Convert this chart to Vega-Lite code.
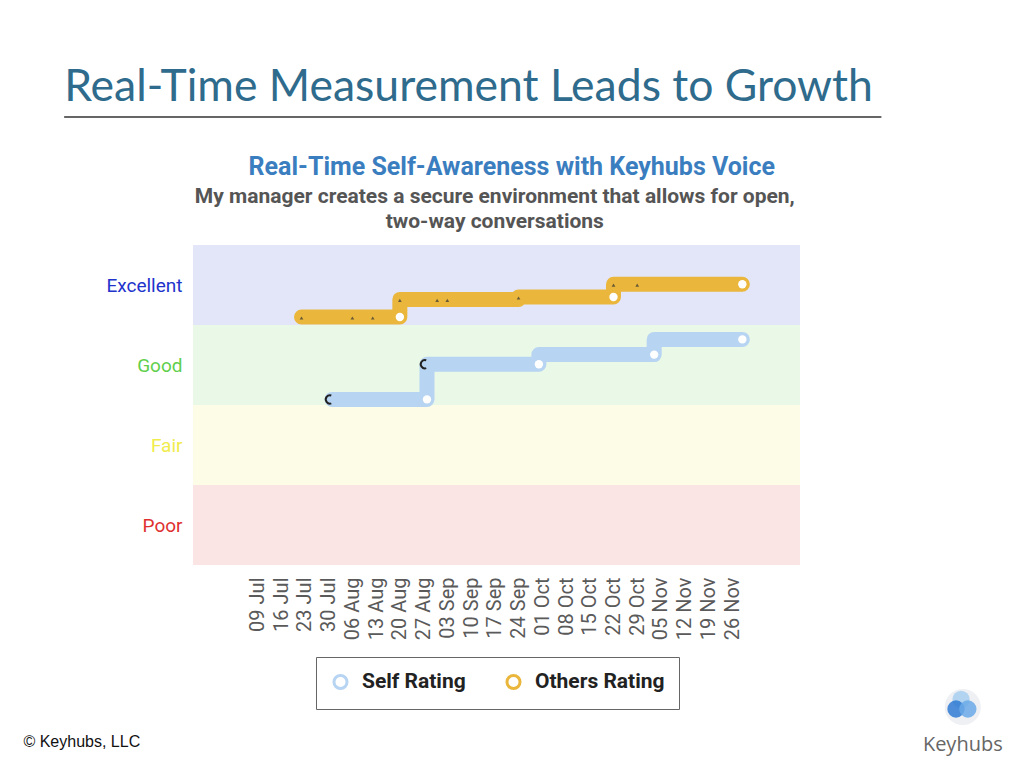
{
  "$schema": "https://vega.github.io/schema/vega-lite/v6.json",
  "width": 607,
  "height": 320,
  "autosize": {"type": "none"},
  "padding": {"left": 193, "top": 245, "right": 224, "bottom": 203},
  "background": "white",
  "config": {
    "font": "Roboto",
    "view": {"stroke": null},
    "axis": {"labelOverlap": false}
  },
  "resolve": {"scale": {"fill": "independent"}},
  "datasets": {
    "bands": [
      {"band": "Excellent", "lo": 3, "hi": 4},
      {"band": "Good", "lo": 2, "hi": 3},
      {"band": "Fair", "lo": 1, "hi": 2},
      {"band": "Poor", "lo": 0, "hi": 1}
    ],
    "ratings": [
      {"series": "Others Rating", "seq": 1, "date": "2018-07-22T00:00:00", "rating": 3.10, "dot": false},
      {"series": "Others Rating", "seq": 2, "date": "2018-08-20T00:00:00", "rating": 3.10, "dot": true},
      {"series": "Others Rating", "seq": 3, "date": "2018-08-20T00:00:00", "rating": 3.32, "dot": false},
      {"series": "Others Rating", "seq": 4, "date": "2018-09-24T00:00:00", "rating": 3.32, "dot": false},
      {"series": "Others Rating", "seq": 5, "date": "2018-09-24T00:00:00", "rating": 3.35, "dot": false},
      {"series": "Others Rating", "seq": 6, "date": "2018-10-22T00:00:00", "rating": 3.35, "dot": true},
      {"series": "Others Rating", "seq": 7, "date": "2018-10-22T00:00:00", "rating": 3.51, "dot": false},
      {"series": "Others Rating", "seq": 8, "date": "2018-11-29T00:00:00", "rating": 3.51, "dot": true},
      {"series": "Self Rating", "seq": 1, "date": "2018-07-31T00:00:00", "rating": 2.07, "dot": false},
      {"series": "Self Rating", "seq": 2, "date": "2018-08-28T00:00:00", "rating": 2.07, "dot": true},
      {"series": "Self Rating", "seq": 3, "date": "2018-08-28T00:00:00", "rating": 2.51, "dot": false},
      {"series": "Self Rating", "seq": 4, "date": "2018-09-30T00:00:00", "rating": 2.51, "dot": true},
      {"series": "Self Rating", "seq": 5, "date": "2018-09-30T00:00:00", "rating": 2.63, "dot": false},
      {"series": "Self Rating", "seq": 6, "date": "2018-11-03T00:00:00", "rating": 2.63, "dot": true},
      {"series": "Self Rating", "seq": 7, "date": "2018-11-03T00:00:00", "rating": 2.82, "dot": false},
      {"series": "Self Rating", "seq": 8, "date": "2018-11-29T00:00:00", "rating": 2.82, "dot": true}
    ],
    "starts": [
      {"series": "Others Rating", "date": "2018-07-22T00:00:00", "rating": 3.10},
      {"series": "Others Rating", "date": "2018-08-06T00:00:00", "rating": 3.10},
      {"series": "Others Rating", "date": "2018-08-12T00:00:00", "rating": 3.10},
      {"series": "Others Rating", "date": "2018-08-20T00:00:00", "rating": 3.32},
      {"series": "Others Rating", "date": "2018-08-31T00:00:00", "rating": 3.32},
      {"series": "Others Rating", "date": "2018-09-03T00:00:00", "rating": 3.32},
      {"series": "Others Rating", "date": "2018-09-24T00:00:00", "rating": 3.35},
      {"series": "Others Rating", "date": "2018-10-22T00:00:00", "rating": 3.51},
      {"series": "Others Rating", "date": "2018-10-29T00:00:00", "rating": 3.51}
    ],
    "selfStarts": [
      {"series": "Self Rating", "date": "2018-07-31T00:00:00", "rating": 2.07},
      {"series": "Self Rating", "date": "2018-08-28T00:00:00", "rating": 2.51}
    ],
    "logo": [
      {"part": "top", "date": "2019-02-01T12:00:00", "rating": -1.68},
      {"part": "left", "date": "2019-01-31T00:00:00", "rating": -1.80},
      {"part": "right", "date": "2019-02-03T12:00:00", "rating": -1.80}
    ]
  },
  "layer": [
    {
      "data": {"name": "bands"},
      "mark": {"type": "rect"},
      "encoding": {
        "y": {"field": "lo", "type": "quantitative"},
        "y2": {"field": "hi"},
        "fill": {
          "field": "band",
          "type": "nominal",
          "legend": null,
          "scale": {
            "domain": ["Excellent", "Good", "Fair", "Poor"],
            "range": ["#e3e6f8", "#eaf8e7", "#fdfde7", "#fbe4e4"]
          }
        }
      }
    },
    {
      "data": {"name": "ratings"},
      "mark": {"type": "line", "strokeWidth": 15, "strokeCap": "round", "strokeJoin": "round"},
      "encoding": {
        "x": {
          "field": "date",
          "type": "temporal",
          "scale": {"domain": ["2018-06-20T00:00:00", "2018-12-16T00:00:00"]},
          "axis": {
            "values": [
              {"year": 2018, "month": 7, "date": 9}, {"year": 2018, "month": 7, "date": 16},
              {"year": 2018, "month": 7, "date": 23}, {"year": 2018, "month": 7, "date": 30},
              {"year": 2018, "month": 8, "date": 6}, {"year": 2018, "month": 8, "date": 13},
              {"year": 2018, "month": 8, "date": 20}, {"year": 2018, "month": 8, "date": 27},
              {"year": 2018, "month": 9, "date": 3}, {"year": 2018, "month": 9, "date": 10},
              {"year": 2018, "month": 9, "date": 17}, {"year": 2018, "month": 9, "date": 24},
              {"year": 2018, "month": 10, "date": 1}, {"year": 2018, "month": 10, "date": 8},
              {"year": 2018, "month": 10, "date": 15}, {"year": 2018, "month": 10, "date": 22},
              {"year": 2018, "month": 10, "date": 29}, {"year": 2018, "month": 11, "date": 5},
              {"year": 2018, "month": 11, "date": 12}, {"year": 2018, "month": 11, "date": 19},
              {"year": 2018, "month": 11, "date": 26}
            ],
            "tickCount": 30,
            "format": "%d %b",
            "labelAngle": -90,
            "labelFontSize": 20,
            "labelColor": "#5a5a5a",
            "labelPadding": 12,
            "labelOverlap": false,
            "labelBound": false,
            "domain": false,
            "ticks": false,
            "grid": false,
            "title": null
          }
        },
        "y": {
          "field": "rating",
          "type": "quantitative",
          "scale": {"domain": [0, 4]},
          "axis": {
            "values": [0.5, 1.5, 2.5, 3.5],
            "labelExpr": "datum.value == 3.5 ? 'Excellent' : datum.value == 2.5 ? 'Good' : datum.value == 1.5 ? 'Fair' : 'Poor'",
            "labelFontSize": 19,
            "labelPadding": 11,
            "labelColor": {
              "condition": [
                {"test": "datum.value == 3.5", "value": "#2233cc"},
                {"test": "datum.value == 2.5", "value": "#5fcf4c"},
                {"test": "datum.value == 1.5", "value": "#f0ec4c"}
              ],
              "value": "#e03030"
            },
            "domain": false,
            "ticks": false,
            "grid": false,
            "title": null
          }
        },
        "order": {"field": "seq", "type": "quantitative"},
        "color": {
          "field": "series",
          "type": "nominal",
          "scale": {"domain": ["Self Rating", "Others Rating"], "range": ["#b7d4f2", "#eab73c"]},
          "legend": {
            "title": null,
            "orient": "none",
            "direction": "horizontal",
            "legendX": 123,
            "legendY": 412,
            "padding": 14,
            "strokeColor": "#666666",
            "fillColor": "white",
            "symbolType": "circle",
            "symbolFillColor": "white",
            "symbolStrokeWidth": 3,
            "symbolSize": 170,
            "labelFontSize": 21,
            "labelFontWeight": "bold",
            "labelColor": "#222222",
            "columnPadding": 34,
            "labelOffset": 11
          }
        }
      }
    },
    {
      "data": {"name": "starts"},
      "mark": {"type": "point", "shape": "triangle-up", "filled": true, "color": "#333333", "size": 14, "yOffset": 1},
      "encoding": {
        "x": {"field": "date", "type": "temporal"},
        "y": {"field": "rating", "type": "quantitative"}
      }
    },
    {
      "data": {"name": "selfStarts"},
      "mark": {"type": "point", "shape": "M 0.3 -0.95 A 1 1 0 1 0 0.3 0.95", "filled": false, "stroke": "#222222", "strokeWidth": 2, "size": 70, "opacity": 1, "xOffset": -2},
      "encoding": {
        "x": {"field": "date", "type": "temporal"},
        "y": {"field": "rating", "type": "quantitative"}
      }
    },
    {
      "data": {"name": "ratings"},
      "transform": [{"filter": "datum.dot"}],
      "mark": {"type": "point", "filled": true, "color": "white", "size": 70, "opacity": 1},
      "encoding": {
        "x": {"field": "date", "type": "temporal"},
        "y": {"field": "rating", "type": "quantitative"}
      }
    },
    {
      "data": {"values": [{"label": "Real-Time Measurement Leads to Growth"}]},
      "mark": {"type": "text", "align": "left", "baseline": "middle", "font": "Lato", "fontSize": 44.5, "color": "#2e6b8c"},
      "encoding": {
        "x": {"datum": {"year": 2018, "month": 5, "date": 13}, "type": "temporal"},
        "y": {"datum": 5.96, "type": "quantitative"},
        "text": {"field": "label"}
      }
    },
    {
      "data": {"values": [{"line": "underline"}]},
      "mark": {"type": "rule", "color": "#333333", "strokeWidth": 1.5},
      "encoding": {
        "x": {"datum": {"year": 2018, "month": 5, "date": 13}, "type": "temporal"},
        "x2": {"datum": {"year": 2019, "month": 1, "date": 9}},
        "y": {"datum": 5.6, "type": "quantitative"}
      }
    },
    {
      "data": {"values": [{"label": "Real-Time Self-Awareness with Keyhubs Voice"}]},
      "mark": {"type": "text", "align": "center", "baseline": "middle", "font": "Roboto", "fontSize": 25, "fontWeight": "bold", "color": "#3a7ebf"},
      "encoding": {
        "x": {"datum": {"year": 2018, "month": 9, "date": 22}, "type": "temporal"},
        "y": {"datum": 4.975, "type": "quantitative"},
        "text": {"field": "label"}
      }
    },
    {
      "data": {"values": [{"label": ["My manager creates a secure environment that allows for open,", "two-way conversations"]}]},
      "mark": {"type": "text", "align": "center", "baseline": "middle", "font": "Roboto", "fontSize": 21, "fontWeight": "bold", "color": "#555555", "lineHeight": 25},
      "encoding": {
        "x": {"datum": {"year": 2018, "month": 9, "date": 17}, "type": "temporal"},
        "y": {"datum": 4.6, "type": "quantitative"},
        "text": {"field": "label"}
      }
    },
    {
      "data": {"values": [{"label": "© Keyhubs, LLC"}]},
      "mark": {"type": "text", "align": "left", "baseline": "middle", "font": "Liberation Sans", "fontSize": 16, "color": "#111111"},
      "encoding": {
        "x": {"datum": {"year": 2018, "month": 5, "date": 1}, "type": "temporal"},
        "y": {"datum": -2.21, "type": "quantitative"},
        "text": {"field": "label"}
      }
    },
    {
      "data": {"values": [{"part": "backdrop"}]},
      "mark": {"type": "point", "filled": true, "color": "#eef0f4", "size": 1300, "opacity": 1},
      "encoding": {
        "x": {"datum": {"year": 2019, "month": 2, "date": 2}, "type": "temporal"},
        "y": {"datum": -1.775, "type": "quantitative"}
      }
    },
    {
      "data": {"name": "logo"},
      "mark": {"type": "point", "filled": true, "opacity": 0.85, "size": 300},
      "encoding": {
        "x": {"field": "date", "type": "temporal"},
        "y": {"field": "rating", "type": "quantitative"},
        "fill": {
          "field": "part",
          "type": "nominal",
          "legend": null,
          "scale": {"domain": ["top", "left", "right"], "range": ["#a8cff0", "#2f7ad2", "#6aa9e8"]}
        }
      }
    },
    {
      "data": {"values": [{"label": "Keyhubs"}]},
      "mark": {"type": "text", "align": "center", "baseline": "middle", "font": "Open Sans", "fontSize": 20, "color": "#666666"},
      "encoding": {
        "x": {"datum": {"year": 2019, "month": 2, "date": 2}, "type": "temporal"},
        "y": {"datum": -2.25, "type": "quantitative"},
        "text": {"field": "label"}
      }
    }
  ]
}
